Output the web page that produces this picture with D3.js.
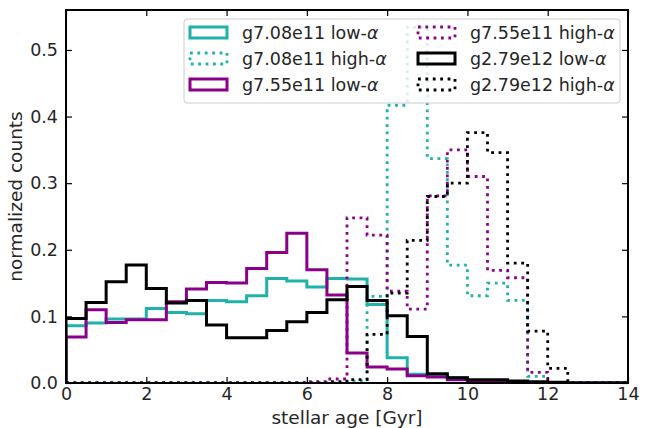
<!DOCTYPE html>
<html>
<head>
<meta charset="utf-8">
<script src="https://cdn.jsdelivr.net/npm/d3@7"></script>
<style>
  body { margin: 0; background: #fff; }
  text { font-family: "DejaVu Sans", sans-serif; fill: #262626; }
</style>
</head>
<body>
<div id="chart"></div>
<script>
// bin edges in Gyr (0.5 Gyr bins)
const binEdges = d3.range(0, 14.01, 0.5);

// normalized counts per bin
const g708Low  = [0.086, 0.090, 0.096, 0.096, 0.112, 0.106, 0.104, 0.124, 0.122, 0.131, 0.157, 0.153, 0.144, 0.157,
                  0.156, 0.118, 0.038, 0.013, 0.010, 0.008, 0.003, 0.001, 0, 0, 0, 0, 0, 0];
const g708High = [0, 0, 0, 0, 0, 0, 0, 0, 0, 0, 0, 0, 0, 0,
                  0.003, 0.130, 0.417, 0.534, 0.337, 0.177, 0.131, 0.150, 0.124, 0.010, 0, 0, 0, 0];
const g755Low  = [0.069, 0.110, 0.091, 0.095, 0.095, 0.122, 0.141, 0.151, 0.150, 0.172, 0.196, 0.225, 0.170, 0.132,
                  0.045, 0.024, 0.021, 0.011, 0.009, 0.005, 0.002, 0.001, 0, 0, 0, 0, 0, 0];
const g755High = [0, 0, 0, 0, 0, 0, 0, 0, 0, 0, 0, 0, 0.002, 0.006,
                  0.248, 0.222, 0.138, 0.111, 0.281, 0.350, 0.310, 0.169, 0.158, 0.016, 0, 0, 0, 0];
const g279Low  = [0.097, 0.121, 0.152, 0.177, 0.142, 0.120, 0.124, 0.087, 0.068, 0.068, 0.079, 0.092, 0.106, 0.125,
                  0.145, 0.124, 0.101, 0.070, 0.014, 0.008, 0.005, 0.005, 0.003, 0.002, 0.001, 0, 0, 0];
const g279High = [0, 0, 0, 0, 0, 0, 0, 0, 0, 0, 0, 0, 0, 0.002,
                  0.005, 0.073, 0.135, 0.214, 0.280, 0.300, 0.376, 0.346, 0.180, 0.078, 0.022, 0, 0, 0];

const xTicks = [0, 2, 4, 6, 8, 10, 12, 14];
const yTicks = [0, 0.1, 0.2, 0.3, 0.4, 0.5];

const series = [
    {name: "g7.08e11", kind: "low", values: g708Low,  color: "#20b2aa", dotted: false},
    {name: "g7.08e11", kind: "high", values: g708High, color: "#20b2aa", dotted: true},
    {name: "g7.55e11", kind: "low", values: g755Low,  color: "#8b008b", dotted: false},
    {name: "g7.55e11", kind: "high", values: g755High, color: "#8b008b", dotted: true},
    {name: "g2.79e12", kind: "low", values: g279Low,  color: "#000000", dotted: false},
    {name: "g2.79e12", kind: "high", values: g279High, color: "#000000", dotted: true}
];

function main(){
    let width = 652;
    let height = 428;
    let margin = {left: 66, right: 24, top: 10, bottom: 45};
    let w = width - margin.left - margin.right;
    let h = height - margin.top - margin.bottom;

    let svg = d3.select("#chart").append("svg")
        .attr("width", width)
        .attr("height", height);

    let g = svg.append("g")
        .attr("transform", "translate(" + margin.left + "," + margin.top + ")");

    let x = d3.scaleLinear().domain([0, 14]).range([0, w]);
    let y = d3.scaleLinear().domain([0, 0.56]).range([h, 0]);

    g.append("clipPath").attr("id", "clip")
        .append("rect").attr("width", w).attr("height", h);

    // step outline like a matplotlib step histogram
    function stepPoints(vals){
        let pts = [[binEdges[0], 0]];
        vals.forEach(function(v, i){
            pts.push([binEdges[i], v]);
            pts.push([binEdges[i + 1], v]);
        });
        pts.push([binEdges[binEdges.length - 1], 0]);
        return pts;
    }
    let line = d3.line()
        .x(function(d){ return x(d[0]); })
        .y(function(d){ return y(d[1]); });

    let plot = g.append("g").attr("clip-path", "url(#clip)");
    series.forEach(function(s){
        plot.append("path")
            .attr("d", line(stepPoints(s.values)))
            .attr("fill", "none")
            .attr("stroke", s.color)
            .attr("stroke-width", s.dotted ? 2.8 : 3)
            .attr("stroke-dasharray", s.dotted ? "2.8 4.6" : null)
            .attr("stroke-linejoin", "miter");
    });

    // axes with inward ticks on all sides
    let tickLen = 6;
    let xAxis = d3.axisBottom(x).tickValues(xTicks).tickSizeInner(-tickLen).tickSizeOuter(0).tickPadding(5);
    let xAxisTop = d3.axisTop(x).tickValues(xTicks).tickSizeInner(-tickLen).tickSizeOuter(0).tickFormat("");
    let yAxis = d3.axisLeft(y).tickValues(yTicks).tickSizeInner(-tickLen).tickSizeOuter(0)
        .tickPadding(8).tickFormat(d3.format(".1f"));
    let yAxisRight = d3.axisRight(y).tickValues(yTicks).tickSizeInner(-tickLen).tickSizeOuter(0).tickFormat("");

    let axes = [
        g.append("g").attr("transform", "translate(0," + h + ")").call(xAxis),
        g.append("g").call(xAxisTop),
        g.append("g").call(yAxis),
        g.append("g").attr("transform", "translate(" + w + ",0)").call(yAxisRight)
    ];
    axes.forEach(function(a){
        a.select(".domain").remove();
        a.selectAll(".tick line").attr("stroke", "#000").attr("stroke-width", 1.2);
        a.selectAll(".tick text").attr("font-size", 17.5).attr("fill", "#262626")
            .style("font-family", "DejaVu Sans");
    });

    g.append("rect")
        .attr("width", w).attr("height", h)
        .attr("fill", "none").attr("stroke", "#000").attr("stroke-width", 2);

    g.append("text")
        .attr("x", w / 2).attr("y", h + 41)
        .attr("text-anchor", "middle")
        .attr("font-size", 18.5)
        .text("stellar age [Gyr]");

    g.append("text")
        .attr("transform", "translate(" + (-44) + "," + (h / 2) + ") rotate(-90)")
        .attr("text-anchor", "middle")
        .attr("font-size", 18.5)
        .text("normalized counts");

    // legend, two columns filled column-wise
    let legend = svg.append("g").attr("transform", "translate(184,19)");
    legend.append("rect")
        .attr("width", 436).attr("height", 84)
        .attr("rx", 3)
        .attr("fill", "#fff").attr("fill-opacity", 0.8)
        .attr("stroke", "#cccccc").attr("stroke-width", 1);

    series.forEach(function(s, i){
        let col = Math.floor(i / 3);
        let row = i % 3;
        let item = legend.append("g")
            .attr("transform", "translate(" + (6 + col * 228) + "," + (8 + row * 26) + ")");
        item.append("rect")
            .attr("width", 37).attr("height", 11)
            .attr("fill", "none")
            .attr("stroke", s.color)
            .attr("stroke-width", s.dotted ? 2.8 : 3)
            .attr("stroke-dasharray", s.dotted ? "2.8 4.6" : null);
        let t = item.append("text")
            .attr("x", 52).attr("y", 6)
            .attr("dy", "0.35em")
            .attr("font-size", 17.5);
        t.append("tspan").text(s.name + " " + s.kind + "-");
        t.append("tspan").attr("font-style", "italic").text("α");
    });
}

main();
</script>
</body>
</html>
